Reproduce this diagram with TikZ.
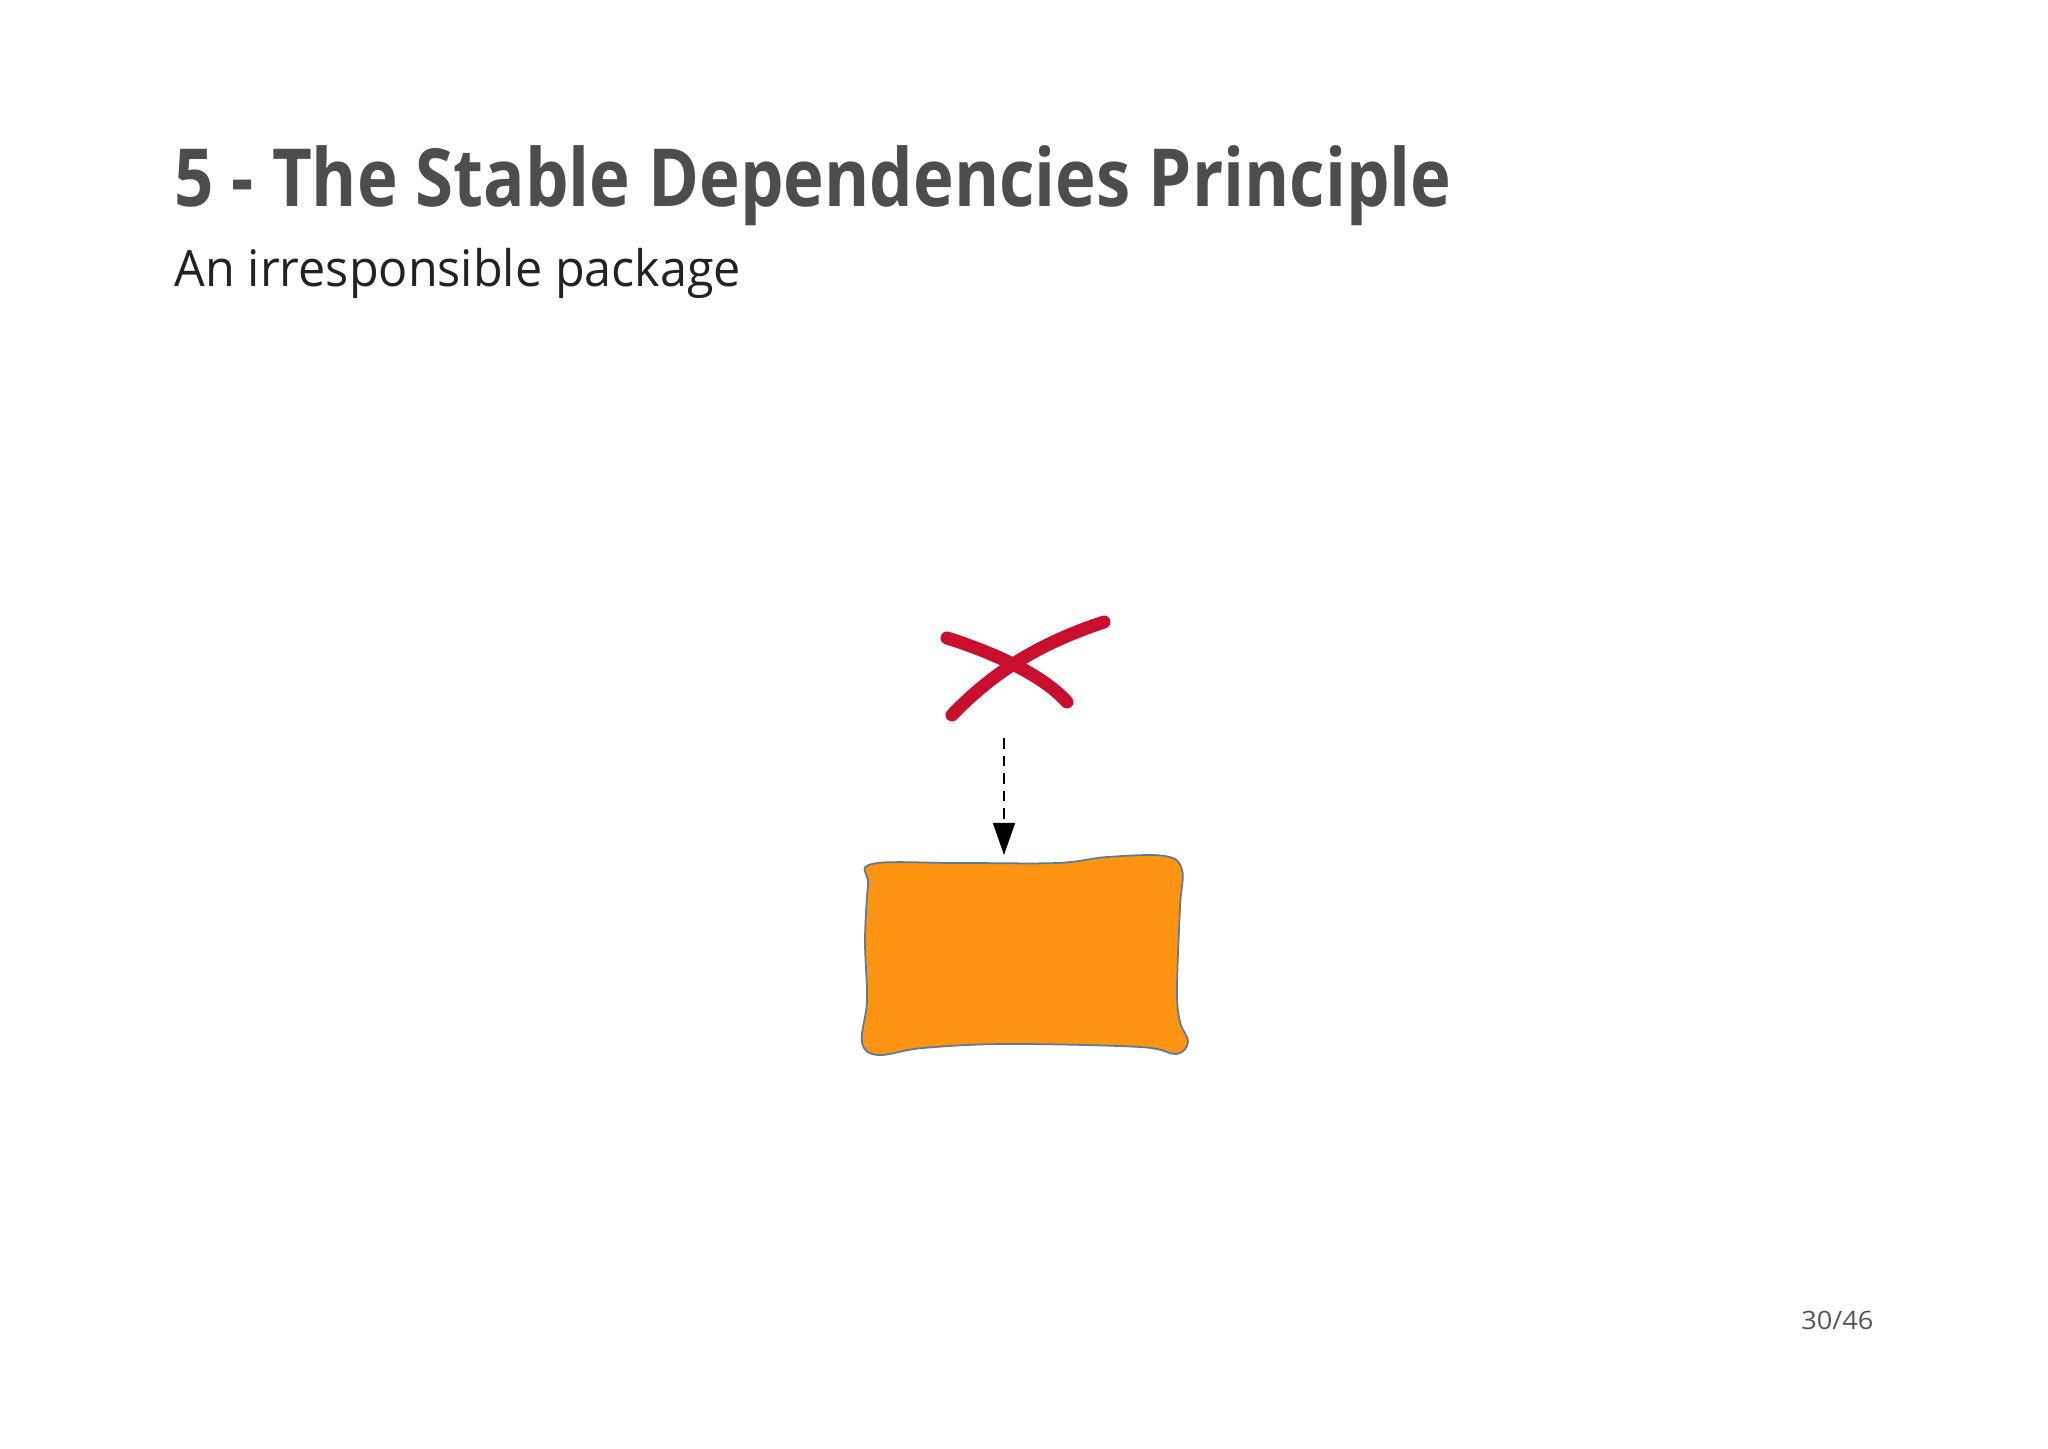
\documentclass[tikz,border=0pt]{standalone}
\usepackage{fontspec}
\usepackage{graphicx}
\setmainfont{Open Sans}
\usetikzlibrary{arrows.meta}
\definecolor{titlegray}{HTML}{4D4D4D}
\definecolor{subblack}{HTML}{222222}
\definecolor{pagegray}{HTML}{555555}
\definecolor{crossred}{HTML}{C8102E}
\definecolor{boxorange}{HTML}{FF9412}
\definecolor{boxline}{HTML}{5A7A9A}
\tikzset{
  titletext/.style={anchor=base west, inner sep=0pt, text=titlegray, font=\bfseries\fontsize{22.8pt}{27pt}\selectfont},
  subtext/.style={anchor=base west, inner sep=0pt, text=subblack, font=\fontsize{14.3pt}{17pt}\selectfont},
  pagetext/.style={anchor=base east, inner sep=0pt, text=pagegray, font=\fontsize{7.2pt}{9pt}\selectfont},
  crossstroke/.style={draw=crossred, line width=1.3mm, line cap=round},
  depline/.style={draw=black, densely dashed, line width=0.4pt, -{Triangle[length=3.2mm,width=2.2mm]}},
}
\begin{document}
\begin{tikzpicture}[x=0.01cm,y=-0.01cm]
\useasboundingbox (0,0) rectangle (2048,1449);
\node[titletext] (title) at (174,207) {\resizebox{12.76cm}{\height}{5 - The Stable Dependencies Principle}};
\node[subtext] (subtitle) at (174,287) {\resizebox{5.66cm}{\height}{An irresponsible package}};
\node[pagetext] (page) at (1874,1329) {\resizebox{0.72cm}{\height}{30/46}};
% red cross
\draw[crossstroke] (947,638) .. controls (985,650) and (1040,672) .. (1067,702);
\draw[crossstroke] (952,715) .. controls (1000,665) and (1050,640) .. (1104,622);
\coordinate (crossbottom) at (1004,738);
% package box
\filldraw[fill=boxorange, draw=boxline, line width=0.5pt] plot[smooth cycle, tension=0.6] coordinates {
(872,864) (957,863) (1057,863) (1107,857) (1165,856) (1182,870)
(1180,907) (1177,990) (1180,1022) (1188,1042) (1176,1054)
(1140,1047) (1007,1044) (923,1048) (878,1055) (862,1042)
(867,1000) (865,940) (868,885)};
\node[inner sep=0pt, minimum width=320, minimum height=190] (pkg) at (1025,955) {};
\coordinate (pkgtop) at (1004,855);
\draw[depline] (crossbottom) -- (pkgtop);
\end{tikzpicture}
\end{document}
